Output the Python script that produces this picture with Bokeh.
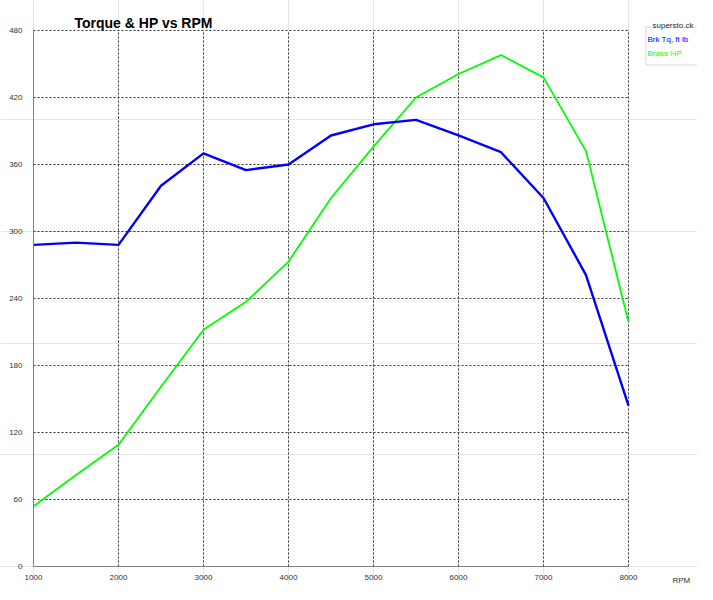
from bokeh.plotting import figure
from bokeh.models import Range1d, FixedTicker, Label, PolyAnnotation, LinearAxis
from bokeh.embed import file_html
from bokeh.resources import INLINE

# ---- data ----
rpm = [1000, 1500, 2000, 2500, 3000, 3500, 4000, 4500, 5000, 5500, 6000, 6500, 7000, 7500, 8000]
torque = [288, 290, 288, 341, 370, 355, 360, 386, 396, 400, 386, 371, 330, 261, 144]
brake_hp = [54, 82, 109, 161, 212, 237, 273, 330, 376, 420, 441, 458, 438, 372, 219]
x_ticks = [1000, 2000, 3000, 4000, 5000, 6000, 7000, 8000]
y_ticks = [0, 60, 120, 180, 240, 300, 360, 420, 480]
title_text = "Torque & HP vs RPM"
legend_title = "supersto.ck"
series_names = ["Brk Tq, ft lb", "Brake HP"]
x_label = "RPM"

FONT = "Liberation Sans"
W, H = 697, 584
# plot area (pixels from top-left of the canvas)
PX0, PX1, PY0, PY1 = 33, 628, 30, 566
xs_per_px = (x_ticks[-1] - x_ticks[0]) / (PX1 - PX0)
ys_per_px = (y_ticks[-1] - y_ticks[0]) / (PY1 - PY0)
x_start = x_ticks[0] - PX0 * xs_per_px
x_end = x_start + W * xs_per_px
y_start = y_ticks[0] - (H - PY1) * ys_per_px
y_end = y_start + H * ys_per_px

p = figure(width=W, height=H, output_backend="svg", toolbar_location=None,
           title=None, x_axis_location=None, y_axis_location=None,
           x_range=Range1d(x_start, x_end), y_range=Range1d(y_start, y_end))
p.min_border = 0
p.outline_line_color = None
p.background_fill_color = "white"
p.border_fill_color = "white"

# grid (dotted)
p.segment(x0=x_ticks[1:], y0=[y_ticks[0]] * (len(x_ticks) - 1),
          x1=x_ticks[1:], y1=[y_ticks[-1]] * (len(x_ticks) - 1),
          line_color="#333333", line_dash="2 2", line_width=1)
p.segment(x0=[x_ticks[0]] * (len(y_ticks) - 1), y0=y_ticks[1:],
          x1=[x_ticks[-1]] * (len(y_ticks) - 1), y1=y_ticks[1:],
          line_color="#333333", line_dash="2 2", line_width=1)

xaxis = LinearAxis(fixed_location=y_ticks[0], bounds=(x_ticks[0], x_ticks[-1]),
                   ticker=FixedTicker(ticks=x_ticks))
yaxis = LinearAxis(fixed_location=x_ticks[0], bounds=(y_ticks[0], y_ticks[-1]),
                   ticker=FixedTicker(ticks=y_ticks))
for ax, so in ((xaxis, 8), (yaxis, 11)):
    ax.major_tick_line_color = None
    ax.minor_tick_line_color = None
    ax.major_tick_out = 0
    ax.major_tick_in = 0
    ax.minor_tick_out = 0
    ax.minor_tick_in = 0
    ax.axis_line_color = "#808080"
    ax.axis_line_width = 1
    ax.major_label_text_font = FONT
    ax.major_label_text_font_size = "8px"
    ax.major_label_text_color = "#333333"
    ax.major_label_standoff = so
p.add_layout(xaxis, "below")
p.add_layout(yaxis, "left")

p.line(rpm, brake_hp, line_color="#00FF00", line_width=1.8)
p.line(rpm, torque, line_color="#0000FF", line_width=2.4)

# title
p.add_layout(Label(x=74, y=H - 22, x_units="screen", y_units="screen", text=title_text,
                   text_font=FONT, text_font_size="14px", text_font_style="bold",
                   text_color="black", text_baseline="alphabetic", text_align="left"))
# x axis name
p.add_layout(Label(x=672, y=H - 580, x_units="screen", y_units="screen", text=x_label,
                   text_font=FONT, text_font_size="8px", text_color="#333333",
                   text_baseline="middle", text_align="left"))
# legend box
LX = 645
p.add_layout(PolyAnnotation(xs=[LX + 0.5, LX + 0.5, 720, 720], ys=[H - 26.5, H - 64.5, H - 64.5, H - 26.5],
                            xs_units="screen", ys_units="screen",
                            fill_color="white", fill_alpha=1.0,
                            line_color="#808080", line_width=1))
p.add_layout(Label(x=LX + 7, y=H - 24.5, x_units="screen", y_units="screen", text=legend_title,
                   text_font=FONT, text_font_size="8px", text_color="#222222",
                   text_baseline="middle", text_align="left",
                   background_fill_color="white"))
p.add_layout(Label(x=LX + 2, y=H - 39, x_units="screen", y_units="screen", text=series_names[0],
                   text_font=FONT, text_font_size="8px", text_color="#0000FF",
                   text_baseline="middle", text_align="left"))
p.add_layout(Label(x=LX + 2, y=H - 53.3, x_units="screen", y_units="screen", text=series_names[1],
                   text_font=FONT, text_font_size="8px", text_color="#00FF00",
                   text_baseline="middle", text_align="left"))

open("out.html", "w").write(file_html(p, INLINE))
